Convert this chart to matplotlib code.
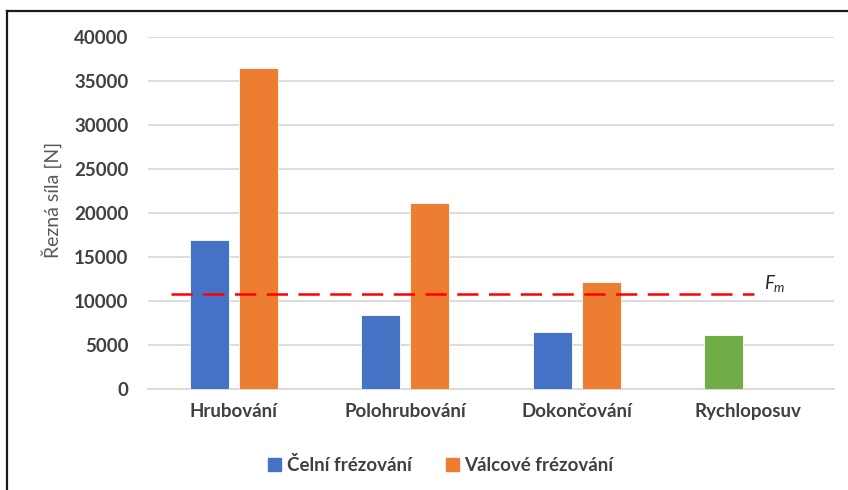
import matplotlib
matplotlib.use("Agg")
import matplotlib.pyplot as plt
from matplotlib.lines import Line2D
from matplotlib.patches import Patch
import numpy as np

# data
categories = ["Hrubování", "Polohrubování", "Dokončování", "Rychloposuv"]
celni = [16900, 8400, 6500, 6100]      # last one is drawn green (rapid traverse)
valcove = [36500, 21100, 12200, None]
fm_value = 10800
yticks = [0, 5000, 10000, 15000, 20000, 25000, 30000, 35000, 40000]

BLUE = "#4472C4"
ORANGE = "#ED7D31"
GREEN = "#70AD47"
TEXT = "#404040"

plt.rcParams["font.family"] = ["Lato", "DejaVu Sans"]
plt.rcParams["mathtext.fontset"] = "custom"
plt.rcParams["mathtext.it"] = "Lato:italic"
plt.rcParams["mathtext.rm"] = "Lato"

fig = plt.figure(figsize=(8.48, 4.90), dpi=100)
ax = fig.add_axes([0.1745, 0.2061, 0.809, 0.7184])

x = np.arange(len(categories))
w = 0.227
off = 0.142

blue_colors = [BLUE, BLUE, BLUE, GREEN]
ax.bar(x - off, celni, width=w, color=blue_colors, edgecolor="white", linewidth=0.6, zorder=3)
v_x = [xi + off for xi, v in zip(x, valcove) if v is not None]
v_y = [v for v in valcove if v is not None]
ax.bar(v_x, v_y, width=w, color=ORANGE, edgecolor="white", linewidth=0.6, zorder=3)

# mean force line
ax.plot([x[0] - 0.366, x[-1] + 0.033], [fm_value, fm_value], color="#FF0000",
        linewidth=1.8, dashes=(8.5, 4.2), zorder=4)
ax.text(x[-1] + 0.09, fm_value, r"$F_m$", fontsize=13.5, color="#262626",
        va="bottom", ha="left")

ax.set_xlim(-0.5, 3.5)
ax.set_ylim(0, 40000)
ax.set_yticks(yticks)
ax.set_yticklabels([str(t) for t in yticks])
ax.set_xticks(x)
ax.set_xticklabels(categories)
ax.tick_params(axis="y", length=0, pad=14, labelsize=13.5, labelcolor=TEXT)
ax.tick_params(axis="x", length=0, pad=10, labelsize=13.5, labelcolor=TEXT)
for lbl in ax.get_xticklabels() + ax.get_yticklabels():
    lbl.set_fontweight("bold")

ax.grid(axis="y", color="#D9D9D9", linewidth=1.3, zorder=0)
ax.set_axisbelow(True)
for s in ["top", "right", "left"]:
    ax.spines[s].set_visible(False)
ax.spines["bottom"].set_color("#D9D9D9")
ax.spines["bottom"].set_linewidth(1.3)

fig.text(52 / 848, 1 - 200 / 490, "Řezná síla [N]", rotation=90, fontsize=14,
         color="#595959", ha="center", va="center")

handles = [Patch(color=BLUE, label="Čelní frézování"),
           Patch(color=ORANGE, label="Válcové frézování")]
leg = fig.legend(handles=handles, loc="center", bbox_to_anchor=(0.52, 0.051),
                 ncol=2, frameon=False, handlelength=0.7, handleheight=0.7,
                 handletextpad=0.3, columnspacing=1.8,
                 prop={"size": 13.5, "weight": "bold"})
for t in leg.get_texts():
    t.set_color(TEXT)

# screenshot frame (top and left edges only)
fig.add_artist(Line2D([0.0083, 1.0], [0.9776, 0.9776], color="#1a1a1a", linewidth=1.6,
                      transform=fig.transFigure))
fig.add_artist(Line2D([0.0083, 0.0083], [0.0, 0.9776], color="#1a1a1a", linewidth=1.6,
                      transform=fig.transFigure))

fig.savefig("out.png", dpi=100)
